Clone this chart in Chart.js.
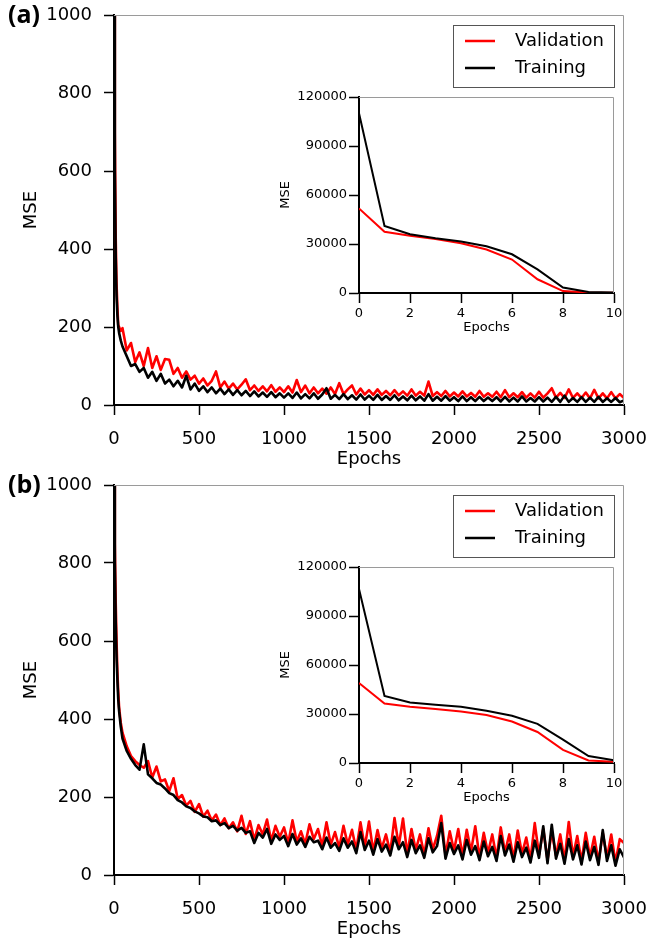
<!DOCTYPE html>
<html>
<head>
<meta charset="utf-8">
<script src="https://cdn.jsdelivr.net/npm/chart.js@4.4.0/dist/chart.umd.min.js"></script>
<style>
  html, body { margin: 0; padding: 0; background: #fff; }
  #wrap { position: relative; width: 649px; height: 941px; }
  canvas { position: absolute; }
</style>
</head>
<body>
<div id="wrap">
  <canvas id="mainA" width="649" height="470" style="left:0px;top:0px"></canvas>
  <canvas id="insetA" width="355" height="255" style="left:270px;top:85px"></canvas>
  <canvas id="mainB" width="649" height="470" style="left:0px;top:470px"></canvas>
  <canvas id="insetB" width="355" height="255" style="left:270px;top:555px"></canvas>
</div>
<script>
// epochs sampled for the main panels
const epochs = [0, 5, 10, 15, 20, 25, 30, 40,
  50, 75, 100, 125, 150, 175, 200, 225, 250, 275,
  300, 325, 350, 375, 400, 425, 450, 475, 500, 525,
  550, 575, 600, 625, 650, 675, 700, 725, 750, 775,
  800, 825, 850, 875, 900, 925, 950, 975, 1000, 1025,
  1050, 1075, 1100, 1125, 1150, 1175, 1200, 1225, 1250, 1275,
  1300, 1325, 1350, 1375, 1400, 1425, 1450, 1475, 1500, 1525,
  1550, 1575, 1600, 1625, 1650, 1675, 1700, 1725, 1750, 1775,
  1800, 1825, 1850, 1875, 1900, 1925, 1950, 1975, 2000, 2025,
  2050, 2075, 2100, 2125, 2150, 2175, 2200, 2225, 2250, 2275,
  2300, 2325, 2350, 2375, 2400, 2425, 2450, 2475, 2500, 2525,
  2550, 2575, 2600, 2625, 2650, 2675, 2700, 2725, 2750, 2775,
  2800, 2825, 2850, 2875, 2900, 2925, 2950, 2975, 3000];

// panel (a)
const valA = [1000, 700, 430, 310, 250, 205, 200, 190,
  197, 140, 159, 110, 135, 100, 146, 95, 125, 90,
  118, 116, 80, 95, 70, 86, 65, 75, 55, 68,
  50, 62, 86, 45, 60, 42, 55, 40, 52, 66,
  38, 50, 36, 48, 35, 51, 34, 45, 33, 48,
  32, 64, 33, 50, 30, 45, 30, 42, 29, 45,
  28, 56, 28, 40, 50, 27, 42, 27, 38, 26,
  40, 26, 36, 25, 38, 25, 35, 24, 40, 24,
  34, 24, 60, 23, 33, 23, 36, 22, 32, 22,
  35, 22, 31, 21, 36, 21, 30, 21, 34, 20,
  38, 20, 30, 20, 33, 19, 30, 19, 34, 19,
  30, 43, 19, 31, 18, 40, 18, 30, 18, 32,
  17, 39, 17, 30, 17, 33, 17, 28, 18];
const trainA = [1000, 600, 380, 280, 230, 200, 185, 165,
  150, 125, 100, 105, 85, 95, 70, 85, 62, 80,
  55, 65, 48, 62, 45, 75, 40, 55, 36, 48,
  33, 45, 30, 42, 28, 40, 26, 38, 25, 36,
  23, 35, 22, 32, 21, 33, 20, 30, 19, 30,
  18, 32, 17, 28, 17, 30, 16, 27, 43, 16,
  26, 15, 28, 15, 25, 14, 27, 14, 24, 13,
  26, 13, 23, 13, 25, 12, 22, 12, 24, 12,
  22, 11, 28, 11, 21, 11, 23, 11, 20, 10,
  22, 10, 20, 10, 21, 10, 19, 10, 20, 9,
  21, 9, 19, 9, 22, 9, 18, 9, 20, 9,
  19, 8, 21, 8, 24, 8, 18, 8, 20, 8,
  19, 8, 21, 8, 17, 8, 18, 7, 12];

// panel (b)
const valB = [1000, 850, 700, 600, 520, 470, 430, 390,
  365, 330, 305, 292, 282, 275, 292, 250, 278, 240,
  245, 215, 248, 195, 205, 178, 190, 162, 182, 150,
  165, 140, 155, 128, 145, 120, 135, 112, 152, 105,
  138, 90, 128, 104, 142, 88, 126, 98, 122, 82,
  140, 86, 112, 80, 130, 92, 118, 74, 135, 78,
  110, 70, 126, 78, 116, 64, 135, 72, 137, 60,
  115, 68, 104, 58, 146, 74, 145, 54, 118, 64,
  104, 52, 120, 66, 100, 152, 50, 112, 62, 118,
  48, 116, 60, 125, 46, 108, 56, 104, 44, 122,
  58, 104, 42, 114, 54, 96, 40, 133, 52, 118,
  38, 112, 50, 104, 37, 136, 48, 100, 35, 108,
  46, 98, 34, 108, 44, 104, 32, 92, 82];
const trainB = [1000, 800, 650, 560, 500, 450, 420, 380,
  350, 318, 298, 282, 270, 335, 258, 248, 236, 232,
  222, 210, 205, 192, 186, 176, 172, 163, 158, 150,
  148, 138, 140, 128, 133, 120, 126, 114, 121, 108,
  112, 82, 108, 96, 118, 80, 104, 90, 100, 74,
  105, 78, 94, 72, 98, 84, 88, 66, 96, 70,
  82, 62, 94, 70, 86, 56, 110, 64, 88, 52,
  92, 60, 78, 50, 98, 66, 84, 46, 90, 56,
  76, 44, 94, 58, 74, 133, 42, 82, 54, 76,
  40, 90, 52, 74, 38, 86, 48, 72, 36, 100,
  50, 78, 34, 84, 46, 70, 32, 88, 44, 125,
  30, 129, 42, 80, 29, 92, 40, 76, 27, 86,
  38, 72, 26, 115, 36, 76, 24, 66, 45];

// insets: first 10 epochs
const insetEpochs = [0, 1, 2, 3, 4, 5, 6, 7, 8, 9, 10];
const insetValA = [51800, 37500, 35000, 33000, 30500, 26600, 20500, 8400, 1200, 300, 200];
const insetTrainA = [110000, 41000, 36000, 33500, 31500, 28600, 23700, 14500, 3300, 600, 300];
const insetValB = [49000, 36400, 34400, 33100, 31500, 29400, 25400, 19000, 8000, 1600, 800];
const insetTrainB = [106500, 41000, 37000, 35600, 34400, 32000, 28900, 24000, 14300, 4300, 1600];

const FONT = '"DejaVu Sans", sans-serif';
const RED = '#ff0000';
const BLACK = '#000000';

function pairs(xs, ys) {
  return xs.map((x, i) => ({ x: x, y: ys[i] }));
}

const plain = (v) => String(v);

// gray top/right frame, panel tag and boxed legend
const decor = {
  id: 'decor',
  afterDraw(chart, args, opts) {
    const ctx = chart.ctx;
    const a = chart.chartArea;
    ctx.save();
    ctx.strokeStyle = '#9a9a9a';
    ctx.lineWidth = 1;
    ctx.beginPath();
    ctx.moveTo(a.left, a.top + 0.5);
    ctx.lineTo(a.right - 0.5, a.top + 0.5);
    ctx.lineTo(a.right - 0.5, a.bottom);
    ctx.stroke();

    if (opts.tag) {
      ctx.fillStyle = '#000';
      ctx.font = 'bold 25px "Open Sans", sans-serif';
      ctx.textAlign = 'left';
      ctx.textBaseline = 'middle';
      ctx.fillText(opts.tag, 8, a.top + 1);
    }

    if (opts.legend) {
      const bx = 453, by = 25, bw = 161, bh = 62;
      ctx.fillStyle = '#fff';
      ctx.fillRect(bx, by, bw, bh);
      ctx.strokeStyle = '#555';
      ctx.lineWidth = 1;
      ctx.strokeRect(bx + 0.5, by + 0.5, bw, bh);
      ctx.font = '18px ' + FONT;
      ctx.textAlign = 'left';
      ctx.textBaseline = 'middle';
      chart.data.datasets.forEach((ds, i) => {
        const y = by + 16 + i * 27;
        ctx.strokeStyle = ds.borderColor;
        ctx.lineWidth = 2.5;
        ctx.beginPath();
        ctx.moveTo(bx + 12, y);
        ctx.lineTo(bx + 42, y);
        ctx.stroke();
        ctx.fillStyle = '#000';
        ctx.fillText(ds.label, bx + 62, y);
      });
    }
    ctx.restore();
  }
};

function axisStyle(tickLen) {
  return {
    grid: { drawOnChartArea: false, drawTicks: true, tickLength: tickLen, tickColor: '#000', tickWidth: 1.5 },
    border: { display: true, color: '#000', width: 2 }
  };
}

// keep the label overhang from shrinking the plot area
function fixY(width) {
  return function (s) {
    s.width = width;
    s.paddingTop = 0;
    s.paddingBottom = 0;
  };
}
function fixX(height) {
  return function (s) {
    s.height = height;
    s.paddingLeft = 0;
    s.paddingRight = 0;
  };
}

function makeMain(id, val, train, tag) {
  const tickFont = { family: FONT, size: 18 };
  return new Chart(document.getElementById(id), {
    type: 'line',
    data: {
      datasets: [
        { label: 'Validation', data: pairs(epochs, val), borderColor: RED, borderWidth: 2.6, order: 2 },
        { label: 'Training', data: pairs(epochs, train), borderColor: BLACK, borderWidth: 2.6, order: 1 }
      ]
    },
    options: {
      responsive: false,
      animation: false,
      devicePixelRatio: 1,
      layout: { padding: { left: 21, top: 15, right: 25, bottom: 0 } },
      elements: { point: { radius: 0 }, line: { tension: 0, borderJoinStyle: 'round' } },
      plugins: {
        legend: { display: false },
        tooltip: { enabled: false },
        decor: { tag: tag, legend: true }
      },
      scales: {
        x: Object.assign(axisStyle(10), {
          type: 'linear', min: 0, max: 3000,
          ticks: { stepSize: 500, color: '#000', font: tickFont, padding: 14, maxRotation: 0, callback: plain },
          title: { display: true, text: 'Epochs', color: '#000', font: tickFont, padding: { top: 0, bottom: 0 } },
          afterFit: fixX(65)
        }),
        y: Object.assign(axisStyle(10), {
          min: 0, max: 1000,
          ticks: { stepSize: 200, color: '#000', font: tickFont, padding: 12, callback: plain },
          title: { display: true, text: 'MSE', color: '#000', font: tickFont, padding: { top: 0, bottom: 0 } },
          afterFit: fixY(93)
        })
      }
    },
    plugins: [decor]
  });
}

function makeInset(id, val, train) {
  const f = { family: FONT, size: 13 };
  return new Chart(document.getElementById(id), {
    type: 'line',
    data: {
      datasets: [
        { label: 'Validation', data: pairs(insetEpochs, val), borderColor: RED, borderWidth: 2, order: 2 },
        { label: 'Training', data: pairs(insetEpochs, train), borderColor: BLACK, borderWidth: 2, order: 1 }
      ]
    },
    options: {
      responsive: false,
      animation: false,
      devicePixelRatio: 1,
      layout: { padding: { left: 8, top: 12, right: 11, bottom: 0 } },
      elements: { point: { radius: 0 }, line: { tension: 0 } },
      plugins: {
        legend: { display: false },
        tooltip: { enabled: false },
        decor: {}
      },
      scales: {
        x: Object.assign(axisStyle(10), {
          type: 'linear', min: 0, max: 10,
          ticks: { stepSize: 2, color: '#000', font: f, padding: 3, maxRotation: 0, callback: plain },
          title: { display: true, text: 'Epochs', color: '#000', font: f, padding: { top: 0, bottom: 5 } },
          afterFit: fixX(47)
        }),
        y: Object.assign(axisStyle(10), {
          min: 0, max: 120000,
          ticks: { stepSize: 30000, color: '#000', font: f, padding: 2, callback: plain },
          title: { display: true, text: 'MSE', color: '#000', font: f, padding: { top: 0, bottom: 0 } },
          afterFit: fixY(81)
        })
      }
    },
    plugins: [decor]
  });
}

makeMain('mainA', valA, trainA, '(a)');
makeInset('insetA', insetValA, insetTrainA);
makeMain('mainB', valB, trainB, '(b)');
makeInset('insetB', insetValB, insetTrainB);
</script>
</body>
</html>
